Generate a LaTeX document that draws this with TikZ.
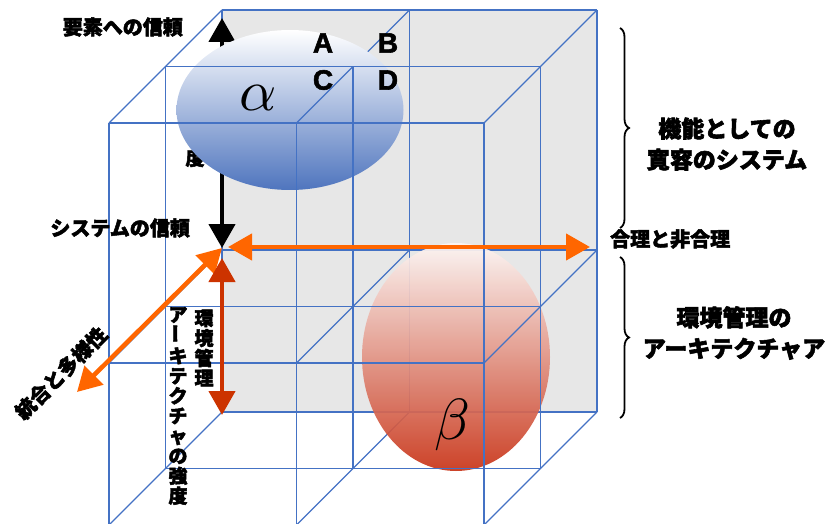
\documentclass[tikz,border=0pt]{standalone}
\usepackage{fontspec}
\usepackage{tikz}
\usetikzlibrary{shapes.geometric, arrows.meta, positioning, decorations.pathreplacing}
\newfontfamily\jpfont{Noto Sans CJK JP}[BoldFeatures={FakeBold=2.5}]
\newfontfamily\latfont{Liberation Sans}[BoldFeatures={FakeBold=2}]
\definecolor{cGrid}{RGB}{68,114,196}
\definecolor{cBack}{RGB}{231,231,231}
\definecolor{cOrange}{RGB}{255,102,0}
\definecolor{cRed}{RGB}{204,51,0}
\definecolor{cBlue}{RGB}{79,117,190}
\definecolor{cPink}{RGB}{253,246,244}
\definecolor{cBeta}{RGB}{200,52,24}
\tikzset{
    gridline/.style={draw=cGrid, line width=1.1pt},
    blob/.style={ellipse, inner sep=0pt, draw=none},
    lbl/.style={font=\jpfont\bfseries\fontsize{20}{22}\selectfont, inner sep=0pt},
    biglbl/.style={font=\jpfont\bfseries\fontsize{23}{31}\selectfont, align=center, inner sep=0pt},
    vlbl/.style={font=\jpfont\bfseries\fontsize{19}{20}\selectfont, align=center, inner sep=0pt},
    cell/.style={font=\latfont\bfseries\fontsize{28}{28}\selectfont, inner sep=0pt},
    greek/.style={inner sep=0pt},
    bigtip/.style={{Triangle[length=24pt,width=26pt]}-{Triangle[length=24pt,width=26pt]}, line width=4.5pt},
    bracket/.style={decorate, decoration={brace, amplitude=9pt}, line width=1.8pt},
}
\begin{document}
\begin{tikzpicture}[x=1pt, y=-1pt]
    \useasboundingbox (0,0) rectangle (825,524);
    \foreach \k in {0,1,2}
        \foreach \i in {0,1,2}
            \foreach \j/\yy in {0/0,1/240,2/402}
                \coordinate (g\i\j\k) at ({222+187.5*\i-56.5*\k},{10+\yy+56.5*\k});
    % back layer
    \fill[cBack] (g000) rectangle (g220);
    \foreach \i in {0,1,2} {
        \draw[gridline] (g\i00) -- (g\i20);
        \draw[gridline] (g0\i0) -- (g2\i0);
    }
    \foreach \i in {0,1,2}
        \foreach \j in {0,1,2}
            \draw[gridline] (g\i\j0) -- (g\i\j1);
    \coordinate (elemtop) at (222,18);
    \coordinate (systop) at (222,248);
    \draw[bigtip, black] (elemtop) -- (systop);
    \node[vlbl] (dolbl) at (195,158) {度};
    \node[blob, minimum width=227pt, minimum height=160pt, top color=white, middle color=cBlue!35, bottom color=cBlue] (alpha) at (290,110) {};
    \node[blob, fill opacity=0.93, minimum width=188pt, minimum height=228pt, top color=cPink, middle color=cBeta!35, bottom color=cBeta] (beta) at (456,357) {};
    % middle and front layers
    \foreach \k in {1,2} {
        \foreach \i in {0,1,2} {
            \draw[gridline] (g\i0\k) -- (g\i2\k);
            \draw[gridline] (g0\i\k) -- (g2\i\k);
        }
    }
    \foreach \i in {0,1,2}
        \foreach \j in {0,1,2}
            \draw[gridline] (g\i\j1) -- (g\i\j2);
    \coordinate (ratl) at (228,247);
    \coordinate (ratr) at (590,247);
    \coordinate (divtop) at (222,248);
    \coordinate (divbot) at (77,392);
    \coordinate (envtop) at (222,258);
    \coordinate (envbot) at (222,415);
    \draw[bigtip, cOrange] (ratl) -- (ratr);
    \draw[bigtip, cOrange] (divtop) -- (divbot);
    \draw[bigtip, cRed] (envtop) -- (envbot);
    \node[greek] (alab) at (258,98) {\scalebox{5.8}{$\alpha$}};
    \node[greek] (blab) at (452,425) {\scalebox{5.8}{$\beta$}};
    \node[cell] (ca) at (323,43) {A};
    \node[cell] (cb) at (388,43) {B};
    \node[cell] (cc) at (323,80) {C};
    \node[cell] (cd) at (388,80) {D};
    \node[lbl, left=39pt of elemtop, yshift=-9pt] (elemlbl) {要素への信頼};
    \node[lbl, left=32pt of systop, yshift=20pt] (syslbl) {システムの信頼};
    \node[lbl, right=20pt of ratr, yshift=8pt] (ratlbl) {合理と非合理};
    \node[lbl, rotate=45] (divlbl) at (61,373) {統合と多様性};
    \node[vlbl] (envlbl) at (204,348) {環\\境\\管\\理};
    \node[vlbl] (archlbl) at (178,406) {ア\\\rotatebox{90}{ー}\\キ\\テ\\ク\\チ\\ャ\\の\\強\\度};
    \coordinate (brtop) at (620,28);
    \coordinate (brmid) at (620,228);
    \coordinate (brlow) at (620,257);
    \coordinate (brbot) at (620,418);
    \draw[bracket] (brtop) -- (brmid);
    \draw[bracket] (brlow) -- (brbot);
    \node[biglbl] (funclbl) at (727,144) {機能としての\\寛容のシステム};
    \node[biglbl] (envarch) at (734,333) {環境管理の\\アーキテクチャア};
\end{tikzpicture}
\end{document}
